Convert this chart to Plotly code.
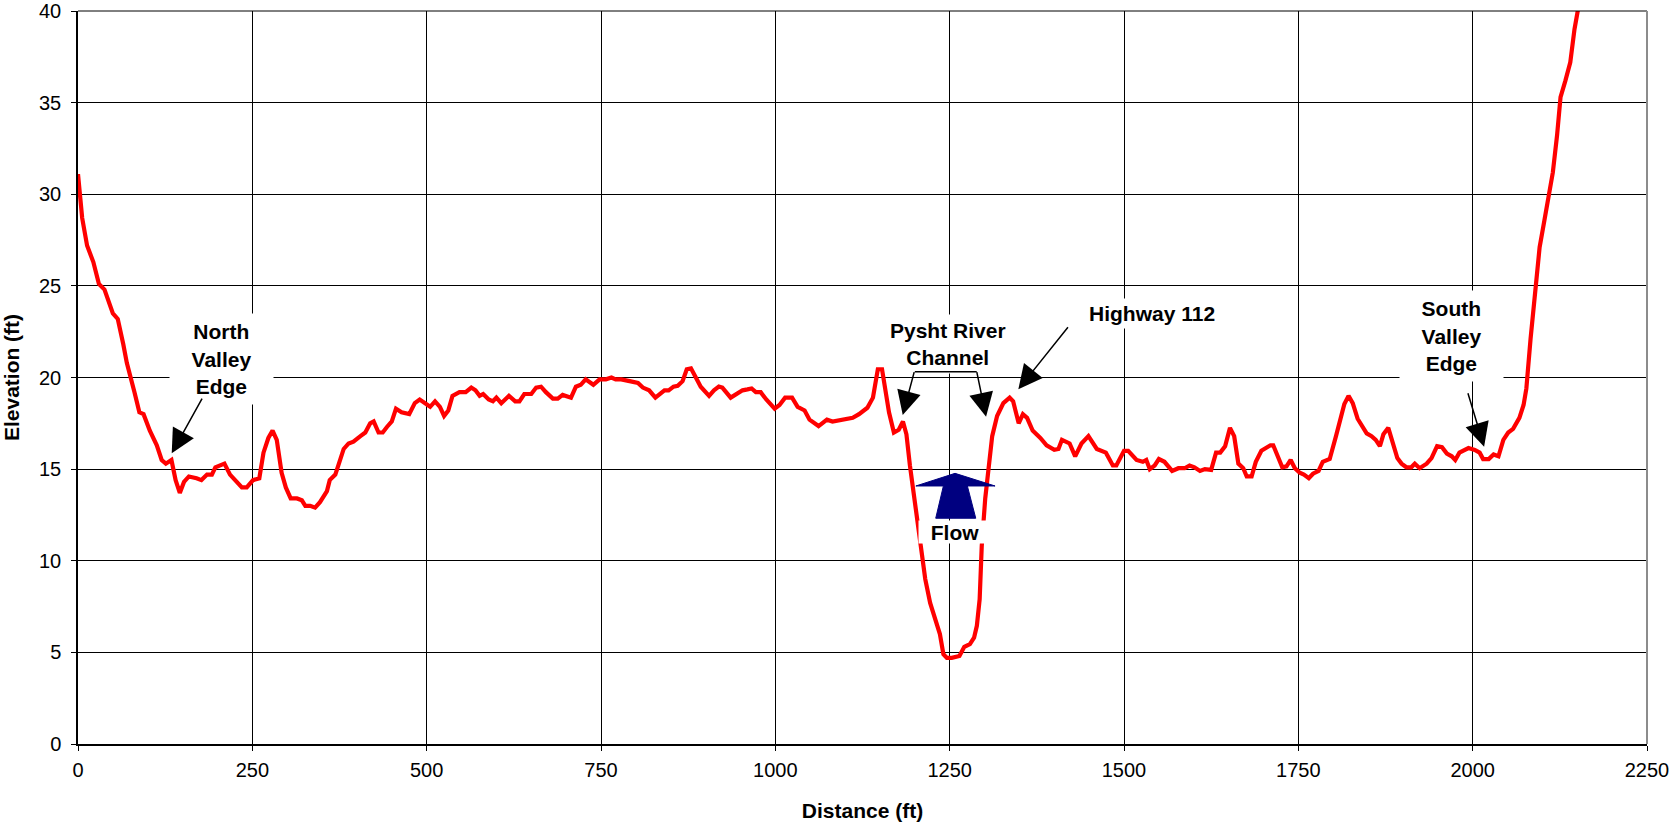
import plotly.graph_objects as go

# ---------------- data ----------------
distance_ft = [
    0, 6, 13, 22, 30, 38, 50, 57, 65, 70, 81, 88, 94, 103, 113, 120, 126, 134, 140, 146,
    152, 159, 170, 177, 185, 192, 197, 210, 218, 228, 235, 242, 251, 260, 266, 273, 279, 285, 292, 298,
    305, 314, 321, 326, 333, 340, 347, 357, 361, 369, 381, 388, 395, 405, 412, 419, 424, 431, 437, 443,
    450, 456, 464, 475, 483, 490, 497, 505, 512, 519, 525, 531, 537, 547, 556, 564, 570, 576, 581, 589,
    595, 600, 607, 618, 627, 633, 640, 650, 657, 664, 671, 681, 688, 695, 707, 714, 721, 728, 739, 748,
    757, 765, 771, 779, 791, 803, 810, 819, 828, 834, 841, 847, 854, 860, 867, 873, 879, 886, 893, 905,
    912, 919, 924, 936, 946, 953, 960, 966, 972, 979, 987, 999, 1006, 1014, 1024, 1032, 1042, 1049, 1062, 1074,
    1082, 1096, 1111, 1120, 1132, 1140, 1147, 1153, 1160, 1163, 1170, 1177, 1183, 1188, 1193, 1199, 1206, 1210, 1215, 1222,
    1230, 1236, 1241, 1246, 1253, 1264, 1271, 1279, 1285, 1289, 1293, 1296, 1301, 1306, 1311, 1318, 1327, 1336, 1341, 1349,
    1355, 1361, 1369, 1380, 1389, 1400, 1406, 1411, 1422, 1430, 1439, 1449, 1461, 1474, 1484, 1489, 1500, 1506, 1518, 1527,
    1532, 1537, 1544, 1550, 1558, 1569, 1578, 1587, 1594, 1601, 1609, 1616, 1625, 1632, 1638, 1645, 1652, 1658, 1664, 1671,
    1676, 1683, 1689, 1697, 1710, 1714, 1721, 1727, 1733, 1739, 1745, 1752, 1758, 1765, 1771, 1779, 1785, 1795, 1804, 1810,
    1816, 1822, 1828, 1835, 1841, 1848, 1855, 1861, 1867, 1872, 1879, 1886, 1892, 1898, 1905, 1912, 1917, 1924, 1934, 1941,
    1949, 1956, 1963, 1970, 1975, 1981, 1987, 1994, 2003, 2010, 2015, 2023, 2030, 2037, 2044, 2051, 2058, 2067, 2073, 2077,
    2083, 2090, 2096, 2103, 2109, 2115, 2121, 2126, 2133, 2140, 2146, 2153,
]
elevation_ft = [
    31.1, 28.7, 27.2, 26.3, 25.1, 24.8, 23.5, 23.2, 21.8, 20.8, 19.2, 18.1, 18.0, 17.1, 16.3, 15.5, 15.3, 15.5, 14.4, 13.7,
    14.3, 14.6, 14.5, 14.4, 14.7, 14.7, 15.1, 15.3, 14.7, 14.3, 14.0, 14.0, 14.4, 14.5, 15.9, 16.7, 17.1, 16.6, 14.8, 14.0,
    13.4, 13.4, 13.3, 13.0, 13.0, 12.9, 13.2, 13.8, 14.4, 14.7, 16.1, 16.4, 16.5, 16.8, 17.0, 17.5, 17.6, 17.0, 17.0, 17.3,
    17.6, 18.3, 18.1, 18.0, 18.6, 18.8, 18.6, 18.4, 18.7, 18.4, 17.9, 18.2, 19.0, 19.2, 19.2, 19.45, 19.3, 19.0, 19.1, 18.8,
    18.7, 18.9, 18.6, 19.0, 18.7, 18.7, 19.1, 19.1, 19.45, 19.5, 19.2, 18.85, 18.85, 19.05, 18.9, 19.5, 19.6, 19.9, 19.6, 19.9,
    19.9, 20.0, 19.9, 19.9, 19.8, 19.7, 19.45, 19.3, 18.9, 19.1, 19.3, 19.3, 19.5, 19.55, 19.8, 20.45, 20.5, 20.0, 19.5, 19.0,
    19.3, 19.5, 19.45, 18.9, 19.1, 19.3, 19.35, 19.4, 19.2, 19.2, 18.8, 18.3, 18.5, 18.9, 18.9, 18.4, 18.2, 17.7, 17.35, 17.7,
    17.6, 17.7, 17.8, 18.0, 18.35, 18.9, 20.45, 20.45, 19.0, 18.1, 17.0, 17.15, 17.6, 16.9, 15.2, 13.5, 11.5, 10.3, 9.0, 7.7,
    6.8, 6.0, 4.9, 4.7, 4.7, 4.8, 5.3, 5.45, 5.8, 6.45, 7.9, 10.8, 13.4, 15.4, 16.8, 17.9, 18.6, 18.9, 18.7, 17.5,
    18.0, 17.8, 17.1, 16.7, 16.3, 16.05, 16.1, 16.6, 16.4, 15.7, 16.4, 16.8, 16.1, 15.9, 15.2, 15.2, 16.0, 16.0, 15.5, 15.4,
    15.5, 15.0, 15.2, 15.55, 15.4, 14.9, 15.05, 15.05, 15.2, 15.1, 14.9, 15.0, 14.96, 15.9, 15.9, 16.25, 17.25, 16.8, 15.3, 15.05,
    14.6, 14.6, 15.4, 16.0, 16.3, 16.3, 15.7, 15.1, 15.15, 15.5, 15.05, 14.8, 14.7, 14.5, 14.75, 14.9, 15.4, 15.55, 16.8, 17.7,
    18.55, 19.0, 18.6, 17.75, 17.4, 16.95, 16.8, 16.6, 16.25, 16.9, 17.25, 16.3, 15.6, 15.3, 15.1, 15.1, 15.3, 15.05, 15.3, 15.6,
    16.25, 16.2, 15.85, 15.7, 15.5, 15.9, 16.0, 16.15, 16.05, 15.9, 15.55, 15.55, 15.8, 15.7, 16.6, 17.0, 17.2, 17.8, 18.5, 19.4,
    22.1, 25.0, 27.1, 28.6, 30.0, 31.2, 33.2, 35.3, 36.2, 37.2, 39.0, 40.5,
]

x_tick_values = [0, 250, 500, 750, 1000, 1250, 1500, 1750, 2000, 2250]
y_tick_values = [0, 5, 10, 15, 20, 25, 30, 35, 40]

label_texts = ["North<br>Valley<br>Edge", "Pysht River<br>Channel", "Highway 112",
               "South<br>Valley<br>Edge", "Flow"]

# ---------------- annotation geometry (data coordinates) ----------------
label_pos = [(206, 21.0), (1248, 21.82), (1540, 23.47), (1970, 22.25), (1257.7, 11.55)]
label_box = [(93, 80, 5), (None, None, 4), (None, None, 3), (93, 80, 5), (70, 20, 1)]

# arrows: (tail_x, tail_y, head_x, head_y, arrowhead)
arrows = [
    (178.3, 18.87, 134.4, 15.86, 2),
    (1420.2, 22.77, 1348.5, 19.36, 2),
    (1993.0, 19.17, 2016.4, 16.22, 2),
    (1199.3, 20.32, 1182.7, 17.95, 2),
    (1288.8, 20.32, 1302.2, 17.86, 2),
    (1199.3, 20.32, 1288.8, 20.32, 0),
]

# flow arrow polygon
flow_x = [1201.5, 1257.7, 1315.1, 1275.4, 1287.4, 1230.0, 1241.0]
flow_y = [14.08, 14.77, 14.08, 14.08, 12.32, 12.32, 14.08]

FONT = "Arial, 'Liberation Sans', sans-serif"

fig = go.Figure()
fig.add_trace(go.Scatter(
    x=distance_ft, y=elevation_ft, mode="lines",
    line=dict(color="#FF0000", width=4.2, shape="linear"),
    hoverinfo="x+y", showlegend=False,
))

# flow arrow as a filled path
path = "M " + " L ".join(f"{a},{b}" for a, b in zip(flow_x, flow_y)) + " Z"
fig.add_shape(type="path", path=path, xref="x", yref="y",
              fillcolor="#000080", line=dict(color="#000080", width=1), layer="above")

# plot-area border: top edge (black like the grid) and right edge (gray)
fig.add_shape(type="line", xref="paper", yref="paper", x0=0, x1=1, y0=1, y1=1,
              line=dict(color="black", width=1), layer="above")
fig.add_shape(type="line", xref="paper", yref="paper", x0=1, x1=1, y0=0, y1=1,
              line=dict(color="#8c8c8c", width=2), layer="above")

annotations = []
for txt, (px, py), (w, h, pad) in zip(label_texts, label_pos, label_box):
    a = dict(x=px, y=py, xref="x", yref="y", text=f"<b>{txt}</b>", showarrow=False,
             font=dict(family=FONT, size=21, color="black"), bgcolor="white",
             borderpad=pad, xanchor="center", yanchor="middle", align="center")
    if w is not None:
        a["width"] = w
    if h is not None:
        a["height"] = h
    annotations.append(a)

for tx, ty, hx, hy, head in arrows:
    annotations.append(dict(
        x=hx, y=hy, ax=tx, ay=ty, xref="x", yref="y", axref="x", ayref="y",
        text="", showarrow=True, arrowhead=head, arrowsize=3.2 if head else 1,
        arrowwidth=1.5, arrowcolor="black", standoff=0, startstandoff=0,
        font=dict(size=1), borderpad=0,
    ))

fig.update_layout(
    width=1671, height=822,
    margin=dict(l=78, r=24, t=11, b=78),
    paper_bgcolor="white", plot_bgcolor="white",
    font=dict(family=FONT, color="black"),
    annotations=annotations,
    showlegend=False,
)
fig.update_xaxes(
    range=[0, 2250], tickvals=x_tick_values, ticktext=[str(v) for v in x_tick_values],
    automargin=False, ticklabeloverflow="allow",
    showgrid=True, gridcolor="black", gridwidth=1, zeroline=False,
    showline=True, linecolor="black", linewidth=2,
    ticks="outside", ticklen=5, tickcolor="black", ticklabelstandoff=2,
    tickfont=dict(family=FONT, size=20, color="black"),
    title=dict(text="<b>Distance (ft)</b>", font=dict(family=FONT, size=21, color="black"), standoff=24),
)
fig.update_yaxes(
    range=[0, 40], tickvals=y_tick_values, ticktext=[str(v) for v in y_tick_values],
    automargin=False, ticklabeloverflow="allow",
    showgrid=True, gridcolor="black", gridwidth=1, zeroline=False,
    showline=True, linecolor="black", linewidth=1.5,
    ticks="outside", ticklen=5, tickcolor="black", ticklabelstandoff=6,
    tickfont=dict(family=FONT, size=20, color="black"),
    title=dict(text="<b>Elevation (ft)</b>", font=dict(family=FONT, size=21, color="black"), standoff=16),
)

# remove the default 8px page margin so the figure sits at the window's corner
fig.write_html("out.html", config={"displayModeBar": False},
               post_script="document.body.style.margin='0';document.body.style.overflow='hidden';")
